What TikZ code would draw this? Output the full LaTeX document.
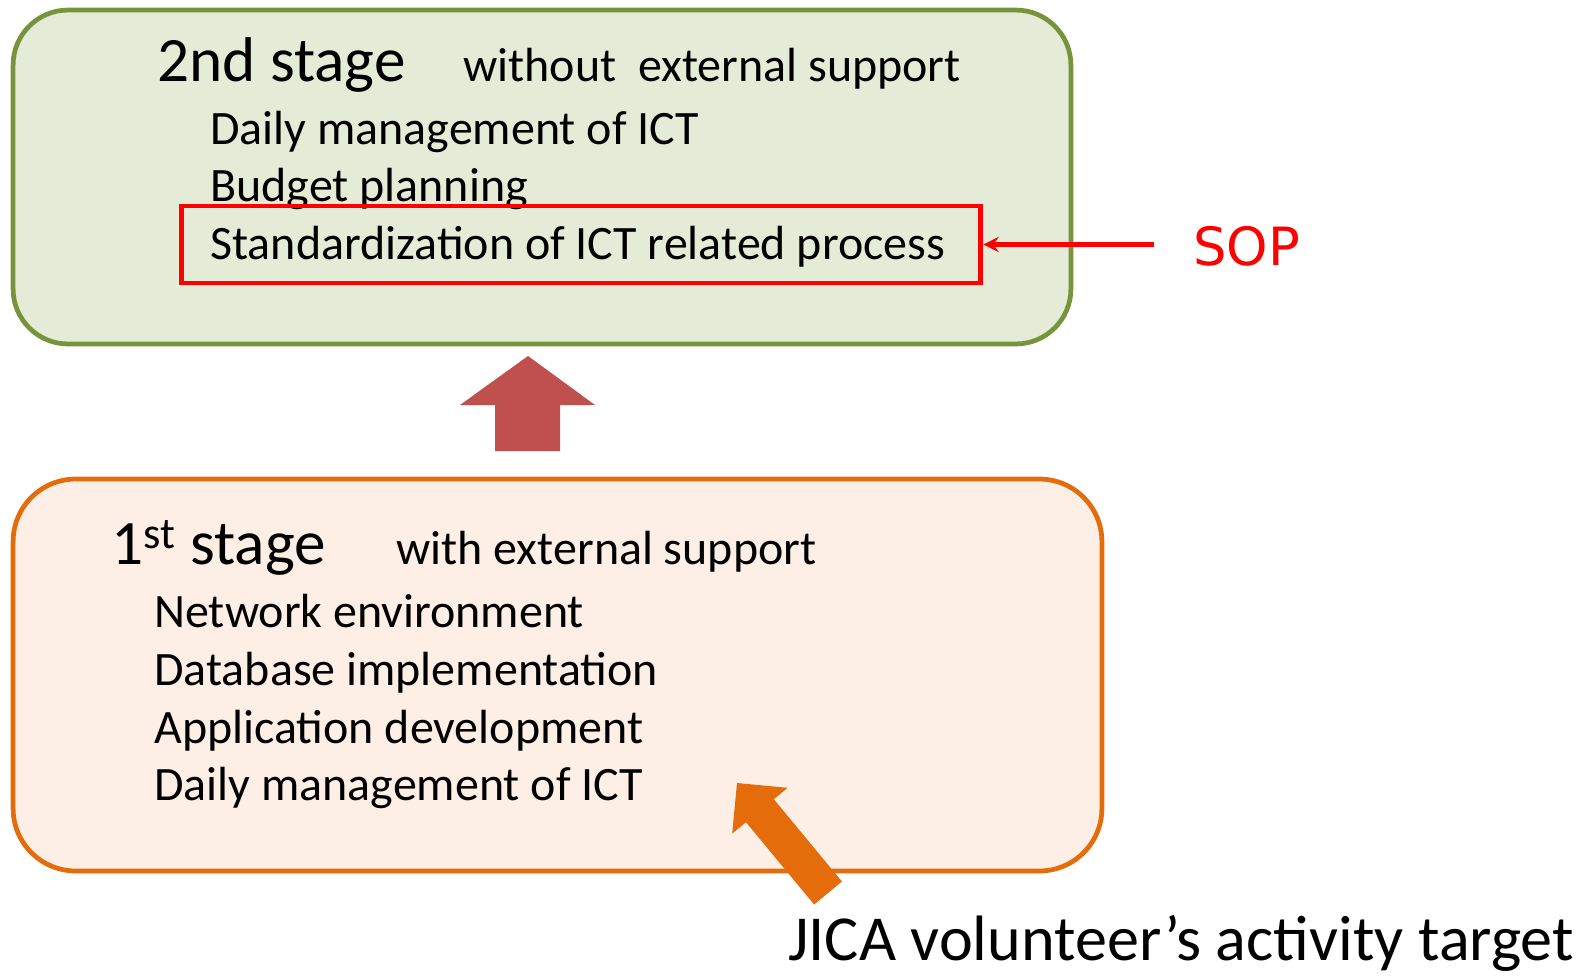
\documentclass[tikz,border=0pt]{standalone}
\usepackage{fontspec}
\setmainfont{Carlito}
\newfontfamily\sopfont{DejaVu Sans}
\usepackage{xcolor}
\usepackage{tikz}
\usetikzlibrary{arrows}
\definecolor{greenfill}{HTML}{E4EBD6}
\definecolor{greenline}{HTML}{77933C}
\definecolor{orangefill}{HTML}{FDEFE6}
\definecolor{orangeline}{HTML}{E46C0A}
\definecolor{uparrow}{HTML}{C0504D}
\tikzstyle{stagebox} = [rectangle, draw, line width = 2.7pt, inner sep = 0pt]
\tikzstyle{title} = [anchor = base west, inner sep = 0pt, font = \fontsize{36}{43}\selectfont]
\tikzstyle{item} = [anchor = base west, inner sep = 0pt, font = \fontsize{27.3}{32}\selectfont]
\tikzstyle{line} = [line width = 2.8pt, ->, >= stealth]

\begin{document}
\begin{tikzpicture}[x = 0.02cm, y = -0.02cm]
        \useasboundingbox (0,0) rectangle (1585,975);
        % 2nd stage
        \node (S2) [stagebox, draw = greenline, fill = greenfill, rounded corners = 1.1cm, minimum width = 21.16cm, minimum height = 6.68cm] at (542,177) {};
        \node (T2) [title] at (157,81) {2nd stage};
        \node (W2) [item] at (463,81) {without\ \ external support};
        \node (D2) [item] at (210,144.5) {Daily management of ICT};
        \node (B2) [item] at (210,201) {Budget planning};
        \node (R) [rectangle, draw = red, line width = 2.8pt, minimum width = 16cm, minimum height = 1.54cm] at (581,244.5) {};
        \node (St2) [item] at (210,259.5) {Standardization of ICT related process};
        \node (SOP) [anchor = west, inner sep = 0pt, text = red, font = \sopfont\fontsize{30}{36}\selectfont] at (1193,246) {SOP};
        \coordinate (sopstart) at (1154,244.5);
        \draw[line, red] (sopstart) -- (R.east);
        % up arrow
        \fill[uparrow] (528,356) -- (595,405) -- (560,405) -- (560,451) -- (495,451) -- (495,405) -- (460,405) -- cycle;
        % 1st stage
        \node (S1) [stagebox, draw = orangeline, fill = orangefill, rounded corners = 1.25cm, minimum width = 21.78cm, minimum height = 7.84cm] at (557.5,675) {};
        \node (T1) [title] at (111,564) {1\textsuperscript{st} stage};
        \node (W1) [item] at (396,564) {with external support};
        \node (N1) [item] at (154,627) {Network environment};
        \node (Db1) [item] at (154,685) {Database implementation};
        \node (A1) [item] at (154,743) {Application development};
        \node (D1) [item] at (154,800) {Daily management of ICT};
        % JICA arrow
        \fill[orangeline] (737,783) -- (787.6,787.8) -- (773.8,799.2) -- (841.9,881.5) -- (814.1,904.5) -- (746,822.2) -- (732.2,833.6) -- cycle;
        \node (J) [title, font = \fontsize{36.5}{43}\selectfont] at (788,960) {JICA volunteer's activity target};
    \end{tikzpicture}
\end{document}
